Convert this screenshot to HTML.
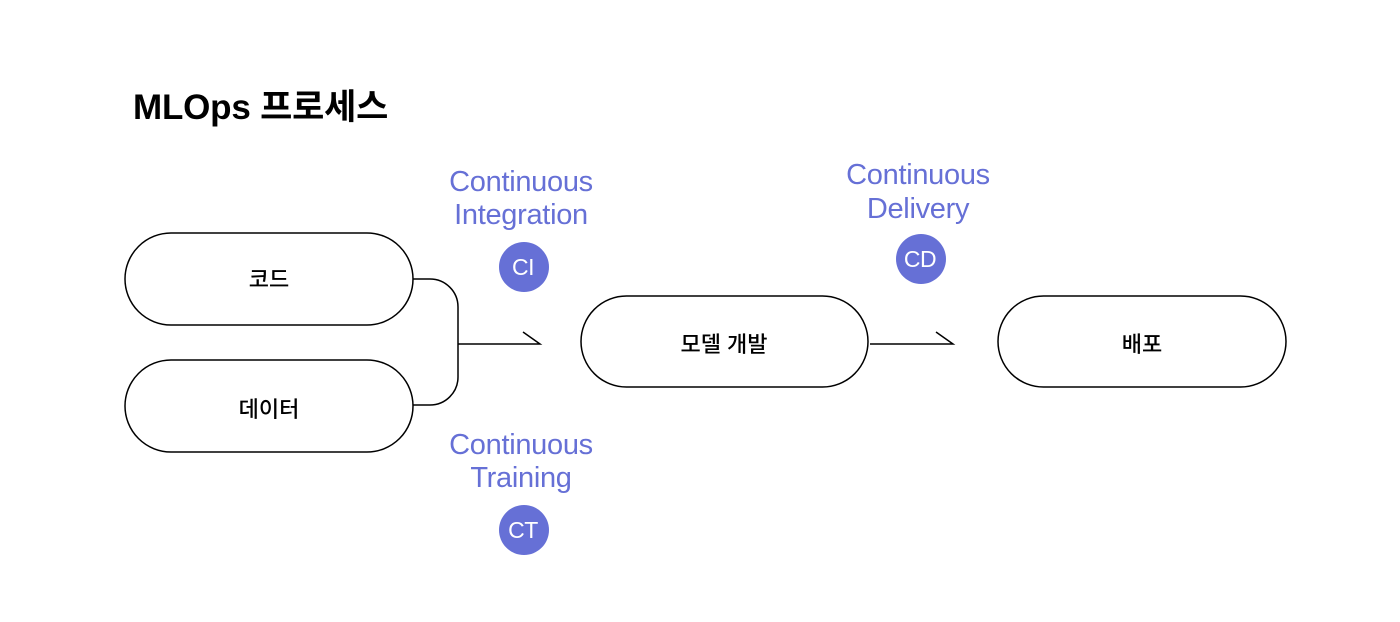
<!DOCTYPE html>
<html><head><meta charset="utf-8"><style>
body{margin:0;background:#fff;}
</style></head><body>
<svg width="1400" height="622" xmlns="http://www.w3.org/2000/svg" style="display:block">
<rect width="1400" height="622" fill="#fff"/>
<text x="133" y="119" font-family="Liberation Sans, Noto Sans CJK KR, sans-serif" font-size="35" font-weight="bold" fill="#000" letter-spacing="-0.2">MLOps 프로세스</text>
<g fill="none" stroke="#000" stroke-width="1.5">
<rect x="125" y="233" width="288" height="92" rx="46"/>
<rect x="125" y="360" width="288" height="92" rx="46"/>
<rect x="581" y="296" width="287" height="91" rx="45.5"/>
<rect x="998" y="296" width="288" height="91" rx="45.5"/>
<path d="M413 279 H430 A28 28 0 0 1 458 307 V377 A28 28 0 0 1 430 405 H413"/>
<path d="M458 344 H540 L523 332"/>
<path d="M870 344 H953 L936 332"/>
</g>
<g font-family="Liberation Sans, Noto Sans CJK KR, sans-serif" font-size="22" font-weight="500" text-anchor="middle" fill="#000">
<text x="269" y="287">코드</text>
<text x="269" y="417">데이터</text>
<text x="724" y="352">모델 개발</text>
<text x="1142" y="352">배포</text>
</g>
<g font-family="Liberation Sans, sans-serif" font-size="29" text-anchor="middle" fill="#6670d6" letter-spacing="-0.3">
<text x="521" y="191">Continuous</text>
<text x="521" y="224">Integration</text>
<text x="918" y="184">Continuous</text>
<text x="918" y="218">Delivery</text>
<text x="521" y="454">Continuous</text>
<text x="521" y="487">Training</text>
</g>
<g fill="#6670d6">
<circle cx="524" cy="267" r="25"/>
<circle cx="921" cy="259" r="25"/>
<circle cx="524" cy="530" r="25"/>
</g>
<g font-family="Liberation Sans, sans-serif" font-size="23" text-anchor="middle" fill="#fff" letter-spacing="-0.5">
<text x="523" y="275">CI</text>
<text x="920" y="267">CD</text>
<text x="523" y="538">CT</text>
</g>
</svg>
</body></html>
